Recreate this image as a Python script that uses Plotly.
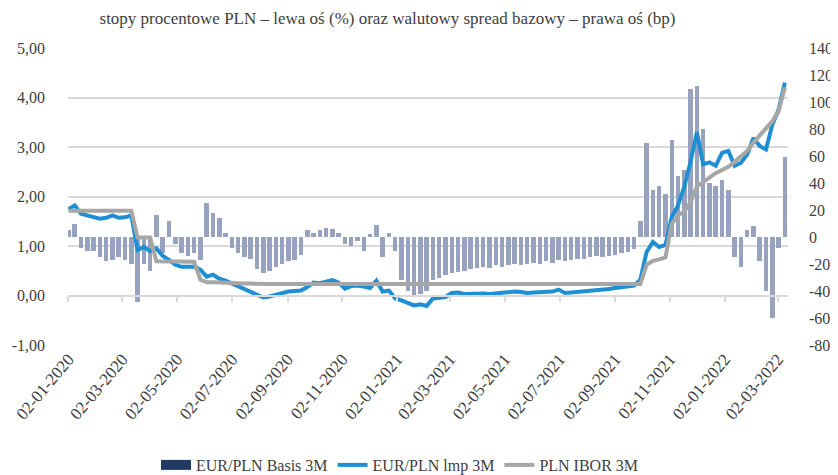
import plotly.graph_objects as go
import pandas as pd

# ---------------- data (weekly readings from the chart) ----------------
start_date = "2020-01-02"
n_weeks = 115
dates = pd.date_range(start_date, periods=n_weeks, freq="7D")

basis_3m = [
    5, 10, -8, -10, -10, -15, -18, -17, -15, -17,
    -20, -48, -20, -25, 16, -12, 12, -5, -12, -14,
    -12, -17, 25, 18, 14, 3, -8, -12, -15, -16,
    -24, -27, -25, -22, -20, -18, -17, -13, 5, 3,
    5, 7, 6, 3, -5, -7, -3, -10, 2, 9,
    -15, 3, -10, -32, -40, -43, -42, -40, -32, -30,
    -28, -27, -26, -25, -24, -23, -22, -23, -21, -22,
    -21, -20, -21, -20, -19, -20, -18, -19, -17, -18,
    -17, -16, -16, -15, -14, -15, -14, -13, -12, -11,
    -9, 12, 70, 35, 38, 32, 72, 45, 50, 110,
    112, 80, 40, 38, 42, 35, -15, -22, 5, 8,
    -18, -40, -60, -8, 59,
]

imp_3m = [
    1.74, 1.82, 1.65, 1.61, 1.58, 1.55, 1.57, 1.62, 1.57, 1.58,
    1.62, 0.92, 0.98, 0.90, 0.95, 0.80, 0.72, 0.62, 0.58, 0.59,
    0.58, 0.52, 0.38, 0.42, 0.34, 0.30, 0.24, 0.19, 0.14, 0.06,
    0.02, -0.04, -0.02, 0.02, 0.05, 0.08, 0.09, 0.10, 0.17, 0.26,
    0.25, 0.28, 0.31, 0.26, 0.14, 0.19, 0.20, 0.18, 0.15, 0.30,
    0.08, 0.10, -0.06, -0.10, -0.14, -0.20, -0.18, -0.21, -0.06, -0.05,
    -0.03, 0.05, 0.06, 0.03, 0.04, 0.05, 0.04, 0.03, 0.04, 0.06,
    0.06, 0.08, 0.07, 0.05, 0.06, 0.07, 0.08, 0.08, 0.12, 0.05,
    0.06, 0.07, 0.09, 0.10, 0.11, 0.12, 0.13, 0.15, 0.16, 0.18,
    0.20, 0.32, 0.88, 1.08, 0.98, 1.02, 1.58, 1.82, 2.20, 2.70,
    3.30, 2.65, 2.69, 2.62, 2.88, 2.92, 2.62, 2.68, 2.85, 3.18,
    3.02, 2.95, 3.45, 3.75, 4.30,
]

ibor_3m = [
    1.71, 1.71, 1.71, 1.71, 1.71, 1.71, 1.71, 1.71, 1.71, 1.71,
    1.71, 1.17, 1.17, 1.17, 0.69, 0.69, 0.69, 0.69, 0.68, 0.68,
    0.68, 0.32, 0.27, 0.27, 0.26, 0.26, 0.25, 0.25, 0.24, 0.24,
    0.23, 0.23, 0.23, 0.23, 0.23, 0.22, 0.22, 0.22, 0.22, 0.22,
    0.22, 0.22, 0.22, 0.22, 0.21, 0.21, 0.21, 0.21, 0.21, 0.21,
    0.21, 0.21, 0.21, 0.21, 0.21, 0.21, 0.21, 0.21, 0.21, 0.21,
    0.21, 0.21, 0.21, 0.21, 0.21, 0.21, 0.21, 0.21, 0.21, 0.21,
    0.21, 0.21, 0.21, 0.21, 0.21, 0.21, 0.21, 0.21, 0.21, 0.21,
    0.21, 0.21, 0.21, 0.21, 0.21, 0.21, 0.21, 0.22, 0.22, 0.22,
    0.22, 0.23, 0.62, 0.70, 0.73, 0.77, 1.45, 1.62, 1.70, 1.88,
    2.20, 2.30, 2.38, 2.47, 2.54, 2.60, 2.70, 2.82, 2.92, 3.09,
    3.24, 3.38, 3.52, 3.72, 4.20,
]

left_ticks = [-1, 0, 1, 2, 3, 4, 5]
left_labels = ["-1,00", "0,00", "1,00", "2,00", "3,00", "4,00", "5,00"]
right_ticks = [-80, -60, -40, -20, 0, 20, 40, 60, 80, 100, 120, 140]
right_labels = ["-80", "-60", "-40", "-20", "0", "20", "40", "60", "80", "100", "120", "140"]
x_ticks = ["2020-01-02", "2020-03-02", "2020-05-02", "2020-07-02", "2020-09-02",
           "2020-11-02", "2021-01-02", "2021-03-02", "2021-05-02", "2021-07-02",
           "2021-09-02", "2021-11-02", "2022-01-02", "2022-03-02"]
x_labels = ["02-01-2020", "02-03-2020", "02-05-2020", "02-07-2020", "02-09-2020",
            "02-11-2020", "02-01-2021", "02-03-2021", "02-05-2021", "02-07-2021",
            "02-09-2021", "02-11-2021", "02-01-2022", "02-03-2022"]

title_text = "stopy procentowe PLN – lewa oś (%) oraz walutowy spread bazowy – prawa oś (bp)"
name_basis = "EUR/PLN Basis 3M"
name_imp = "EUR/PLN lmp 3M"
name_ibor = "PLN IBOR 3M"

# ---------------- style ----------------
FONT = "Liberation Serif"
TXT = "#404040"
GRID = "#D9D9D9"
x_range = ["2020-01-01 12:00", "2022-03-13 12:00"]
DAY_MS = 86400000
# the page body adds an 8 px offset, so the figure is 8 px smaller each way
W, H = 830, 467

fig = go.Figure()

# bars (right axis, main y)
fig.add_trace(go.Bar(
    x=dates, y=basis_3m, name=name_basis, showlegend=False,
    marker=dict(color="#97A3BE", line=dict(width=0)),
    width=5 * DAY_MS, xaxis="x", yaxis="y", hoverinfo="skip",
))
# legend entry for bars (solid navy swatch)
fig.add_trace(go.Scatter(
    x=[None], y=[None], name=name_basis, mode="lines",
    line=dict(color="#1F3864", width=12), xaxis="x", yaxis="y",
))
# lines (left axis)
fig.add_trace(go.Scatter(
    x=dates, y=imp_3m, name=name_imp, mode="lines",
    line=dict(color="#1E8FD2", width=4), xaxis="x", yaxis="y2",
))
fig.add_trace(go.Scatter(
    x=dates, y=ibor_3m, name=name_ibor, mode="lines",
    line=dict(color="#A6A6A6", width=4), xaxis="x", yaxis="y2",
))
# axis-line holder at y = 0 (left axis)
fig.add_trace(go.Scatter(x=[], y=[], xaxis="x2", yaxis="y2",
                         showlegend=False, hoverinfo="skip"))

fig.update_layout(
    template="none",
    width=W, height=H,
    margin=dict(l=60, r=50, t=40, b=130, autoexpand=False),
    paper_bgcolor="white", plot_bgcolor="white",
    font=dict(family=FONT, size=15, color=TXT),
    bargap=0,
    title=dict(text=title_text, x=379.5 / W, xref="container", xanchor="center",
               y=1 - 10 / H, yref="container", yanchor="middle",
               font=dict(family=FONT, size=17, color=TXT)),
    xaxis=dict(
        type="date", range=x_range, tickvals=x_ticks, ticktext=x_labels,
        tickangle=-50, showgrid=False, zeroline=False, showline=False,
        ticks="", automargin=False, tickfont=dict(family=FONT, size=17, color=TXT),
    ),
    xaxis2=dict(
        type="date", range=x_range, overlaying="x", anchor="free",
        position=1 / 6, tickvals=x_ticks, showticklabels=False, automargin=False,
        showgrid=False, zeroline=False, showline=True, linecolor=GRID,
        linewidth=2, ticks="outside", ticklen=5, tickcolor=GRID, tickwidth=1.5,
    ),
    yaxis=dict(
        range=[-80, 140], side="right", tickvals=right_ticks, ticktext=right_labels,
        showgrid=False, zeroline=False, showline=False, ticklabelstandoff=20,
        automargin=False, ticks="", tickfont=dict(family=FONT, size=16, color=TXT),
    ),
    yaxis2=dict(
        range=[-1, 5], side="left", overlaying="y", anchor="x",
        tickvals=left_ticks, ticktext=left_labels, automargin=False, ticks="",
        showgrid=True, gridcolor=GRID, gridwidth=1.5, zeroline=False,
        showline=False, ticklabelstandoff=22,
        tickfont=dict(family=FONT, size=16, color=TXT),
    ),
    legend=dict(orientation="h", x=(392 - 60) / 720, xanchor="center",
                y=-0.404, yanchor="middle", font=dict(family=FONT, size=16, color=TXT),
                traceorder="normal", itemwidth=30, bgcolor="rgba(0,0,0,0)"),
    showlegend=True,
)

fig.write_html("out.html")
